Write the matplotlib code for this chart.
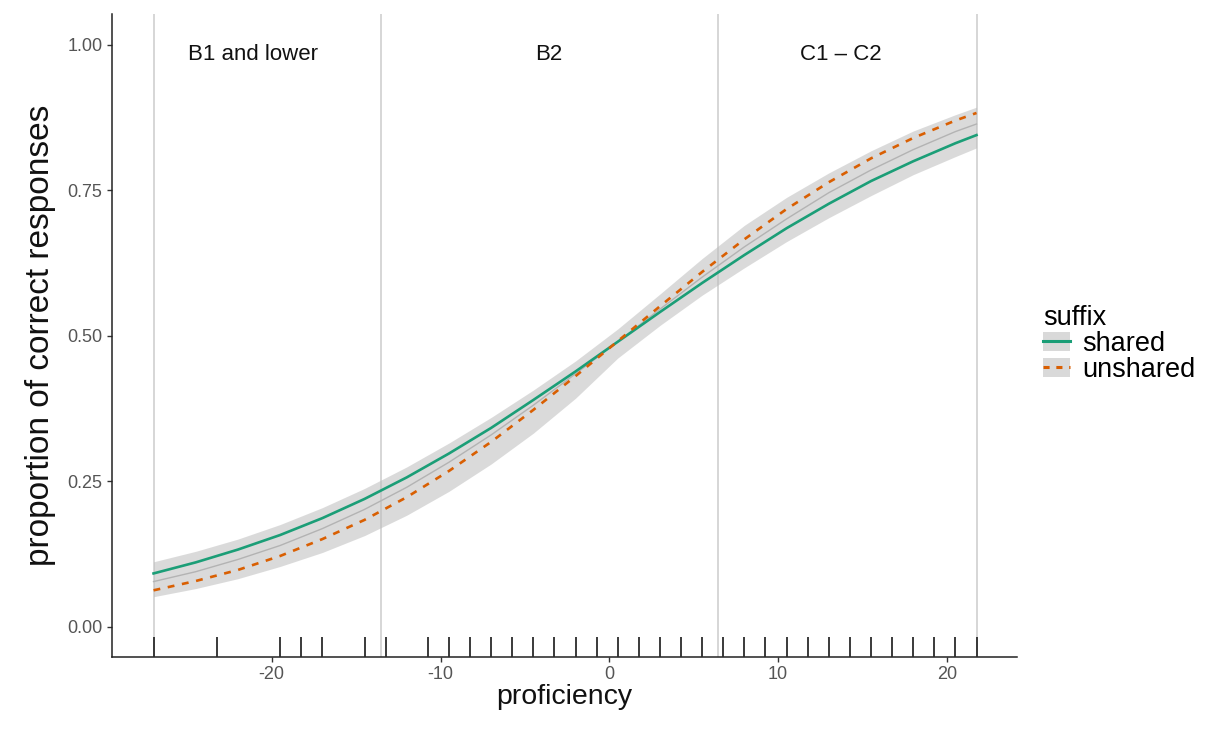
import matplotlib
matplotlib.use("Agg")
import matplotlib.pyplot as plt
from matplotlib.patches import Patch
from matplotlib.lines import Line2D

plt.rcParams['font.family'] = ['Liberation Sans', 'DejaVu Sans']

# ---- data ----
proficiency = [-27, -24.5, -22, -19.5, -17, -14.5, -12, -9.5, -7, -4.5, -2,
               0.5, 3, 5.5, 8, 10.5, 13, 15.5, 18, 20.5, 21.75]
shared = [0.092, 0.111, 0.133, 0.158, 0.187, 0.220, 0.257, 0.298, 0.342, 0.390, 0.439,
          0.490, 0.541, 0.591, 0.639, 0.685, 0.727, 0.766, 0.800, 0.831, 0.845]
unshared = [0.063, 0.079, 0.098, 0.122, 0.151, 0.184, 0.223, 0.268, 0.318, 0.373, 0.431,
            0.491, 0.551, 0.610, 0.666, 0.718, 0.764, 0.805, 0.840, 0.870, 0.883]
overall = [0.078, 0.095, 0.116, 0.140, 0.169, 0.202, 0.240, 0.283, 0.330, 0.381, 0.435,
           0.490, 0.546, 0.601, 0.653, 0.701, 0.746, 0.785, 0.820, 0.851, 0.864]
band_low = [0.052, 0.066, 0.083, 0.104, 0.128, 0.157, 0.192, 0.233, 0.280, 0.333, 0.393,
            0.462, 0.518, 0.570, 0.617, 0.662, 0.703, 0.741, 0.777, 0.808, 0.823]
band_high = [0.112, 0.130, 0.151, 0.176, 0.205, 0.238, 0.275, 0.316, 0.360, 0.407, 0.457,
             0.512, 0.572, 0.633, 0.690, 0.738, 0.780, 0.818, 0.852, 0.880, 0.893]
rug_values = [-27, -23.25, -19.5, -18.25, -17, -14.5, -13.25, -10.75, -9.5, -8.25, -7,
              -5.75, -4.5, -3.25, -2, -0.75, 0.5, 1.75, 3, 4.25, 5.5, 6.75, 8, 9.25,
              10.5, 11.75, 13, 14.25, 15.5, 16.75, 18, 19.25, 20.5, 21.75]
cutoffs = [-27, -13.5, 6.45, 21.75]
level_labels = ["B1 and lower", "B2", "C1 \u2013 C2"]
level_label_x = [-21.1, -3.6, 13.7]
xticks = [-20, -10, 0, 10, 20]
yticks = [0.0, 0.25, 0.5, 0.75, 1.0]
ytick_labels = ["0.00", "0.25", "0.50", "0.75", "1.00"]

green = '#1b9e77'
orange = '#d95f02'
band_color = '#bdbdbd'

fig = plt.figure(figsize=(12.07, 7.29), dpi=100)
ax = fig.add_axes([0.0928, 0.0988, 0.7498, 0.882])

for c in cutoffs:
    ax.axvline(c, color='#cfcfcf', lw=1.2, zorder=1)

ax.fill_between(proficiency, band_low, band_high, color=band_color, alpha=0.55,
                lw=0, zorder=2)
ax.plot(proficiency, overall, color='#b3b3b3', lw=1.0, zorder=3)
ax.plot(proficiency, shared, color=green, lw=1.9, zorder=4)
ax.plot(proficiency, unshared, color=orange, lw=1.9, dashes=(2.6, 2.9), zorder=5)

ax.vlines(rug_values, 0, 0.031, transform=ax.get_xaxis_transform(),
          color='#2b2b2b', lw=1.3, zorder=6)

for lab, lx in zip(level_labels, level_label_x):
    ax.text(lx, 0.984, lab, ha='center', va='center', fontsize=16, color='#111111')

ax.set_xlim(-29.46, 24.15)
ax.set_ylim(-0.0515, 1.053)
ax.set_xticks(xticks)
ax.set_xticklabels([str(v) for v in xticks])
ax.set_yticks(yticks)
ax.set_yticklabels(ytick_labels)
ax.tick_params(axis='both', colors='#333333', labelcolor='#555555', labelsize=13,
               length=3.5, width=1)
ax.tick_params(axis='x', pad=3)

for s in ['top', 'right']:
    ax.spines[s].set_visible(False)
for s in ['left', 'bottom']:
    ax.spines[s].set_color('#222222')
    ax.spines[s].set_linewidth(1.1)

ax.set_xlabel('proficiency', fontsize=20.5, labelpad=1, color='#111111')
ax.set_ylabel('proportion of correct responses', fontsize=24, labelpad=8, color='#111111')

handles = [(Patch(facecolor='#d9d9d9', edgecolor='none'), Line2D([], [], color=green, lw=2.2)),
           (Patch(facecolor='#d9d9d9', edgecolor='none'), Line2D([], [], color=orange, lw=2.2, dashes=(2, 2.2)))]
leg = fig.legend(handles, ['shared', 'unshared'], title='suffix', loc='upper left',
                 bbox_to_anchor=(0.855, 0.597), frameon=False, fontsize=19.5,
                 title_fontsize=19.5, handlelength=1.0, handletextpad=0.45,
                 labelspacing=0.0, alignment='left', borderaxespad=0)

fig.savefig('out.png', dpi=100)
